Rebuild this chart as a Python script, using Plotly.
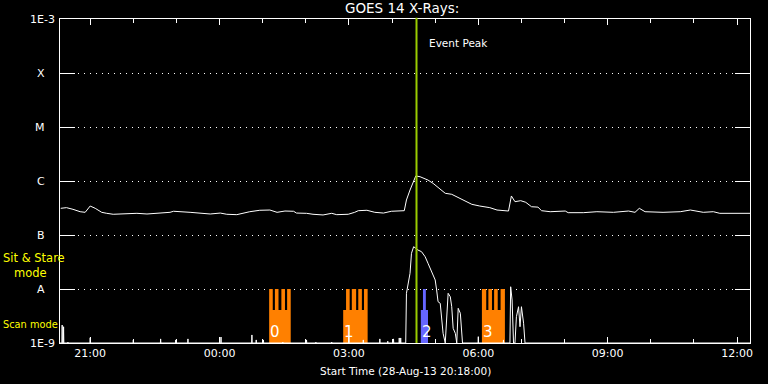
import plotly.graph_objects as go
from datetime import datetime, timedelta
import math

# ---------------- data ----------------
START = "20:18"
END = "12:18"
PEAK_TIME = "04:34"

# GOES 14 long channel (1-8 A), W/m^2
long_times = ["20:19", "20:27", "20:36", "20:46", "20:53", "21:00", "21:07", "21:16", "21:23", "21:32",
              "22:05", "22:19", "22:51", "22:56", "23:19", "23:47", "00:01", "00:10", "00:24", "00:42",
              "00:56", "01:10", "01:20", "01:31", "01:43", "01:47", "02:01", "02:10", "02:24", "02:36",
              "02:43", "02:59", "03:08", "03:13", "03:25", "03:36", "03:48", "03:59", "04:17", "04:20",
              "04:25", "04:30", "04:33", "04:39", "04:50", "04:57", "05:07", "05:14", "05:23", "05:32",
              "05:39", "05:51", "06:02", "06:16", "06:26", "06:42", "06:46", "06:51", "06:59", "07:06",
              "07:14", "07:23", "07:28", "07:40", "08:01", "08:05", "08:26", "08:45", "09:08", "09:29",
              "09:38", "09:44", "09:52", "10:17", "10:41", "10:55", "11:13", "11:27", "11:36", "12:18"]
long_flux = [3.12e-7, 3.21e-7, 2.99e-7, 2.70e-7, 2.63e-7, 3.44e-7, 3.12e-7, 2.63e-7, 2.52e-7, 2.42e-7,
             2.52e-7, 2.45e-7, 2.63e-7, 2.75e-7, 2.63e-7, 2.45e-7, 2.55e-7, 2.42e-7, 2.38e-7, 2.70e-7,
             2.87e-7, 2.90e-7, 2.63e-7, 2.78e-7, 2.75e-7, 2.55e-7, 2.52e-7, 2.42e-7, 2.35e-7, 2.52e-7,
             2.38e-7, 2.42e-7, 2.63e-7, 2.82e-7, 2.87e-7, 2.63e-7, 2.55e-7, 2.75e-7, 2.82e-7, 4.45e-7,
             6.81e-7, 9.70e-7, 1.24e-6, 1.20e-6, 1.04e-6, 9.06e-7, 7.02e-7, 5.92e-7, 5.67e-7, 4.99e-7,
             4.45e-7, 3.70e-7, 3.44e-7, 3.21e-7, 2.90e-7, 2.78e-7, 5.28e-7, 4.14e-7, 4.32e-7, 4.03e-7,
             3.34e-7, 3.28e-7, 2.82e-7, 2.70e-7, 2.78e-7, 2.59e-7, 2.59e-7, 2.70e-7, 2.63e-7, 2.78e-7,
             2.63e-7, 3.12e-7, 2.70e-7, 2.63e-7, 2.70e-7, 2.90e-7, 2.63e-7, 2.70e-7, 2.52e-7, 2.52e-7]

# GOES 14 short channel (0.5-4 A): flare segments
short_floor = 1e-9
flare_times = ["04:18", "04:19", "04:20", "04:23", "04:25", "04:27", "04:30", "04:33", "04:36", "04:41",
               "04:46", "04:50", "04:55", "05:00", "05:02", "05:04", "05:07", "05:09", "05:11", "05:14",
               "05:16", "05:18", "05:21", "05:23", "05:25", "05:28", "05:30", "05:32", "05:35", "05:37",
               "05:38"]
flare_flux = [1e-9, 1e-9, 8.32e-9, 1.36e-8, 1.95e-8, 4.58e-8, 6.07e-8, 5.67e-8, 5.27e-8, 4.91e-8,
              3.96e-8, 2.99e-8, 2.09e-8, 1.47e-8, 9.58e-9, 5.82e-9, 5.43e-9, 2.32e-9, 1.51e-9, 1e-9,
              2.32e-9, 8.32e-9, 7.20e-9, 4.70e-9, 1.87e-9, 1.51e-9, 1e-9, 4.39e-9, 3.55e-9, 1e-9,
              1e-9]
late_times = ["06:44", "06:45", "06:47", "06:49", "06:51", "06:53", "06:56", "06:58", "07:00", "07:03",
              "07:05", "07:09"]
late_flux = [1e-9, 1.10e-8, 6.26e-9, 1e-9, 1e-9, 3.07e-9, 4.70e-9, 2.00e-9, 4.70e-9, 2.32e-9,
             1e-9, 1e-9]
# isolated short-channel spikes
spike_times = ["20:21", "20:23", "20:29", "21:00", "22:00", "22:38", "22:59", "23:16", "00:02", "00:45",
               "00:51", "01:01", "01:28", "02:01", "02:14", "02:36", "03:00", "03:20", "03:43", "03:54",
               "04:02", "04:10", "04:12", "06:00", "06:35"]
spike_flux = [2.15e-9, 2.0e-9, 1.04e-9, 1.25e-9, 1.14e-9, 1.19e-9, 1.14e-9, 1.19e-9, 1.29e-9, 1.41e-9,
              1.14e-9, 1.14e-9, 1.04e-9, 1.14e-9, 1.04e-9, 1.04e-9, 1.31e-9, 1.14e-9, 1.19e-9, 1.08e-9,
              1.19e-9, 1.24e-9, 1.24e-9, 1.31e-9, 1.14e-9]

# IRIS observations: label, colour key, raster (tooth) intervals, base interval
obs_labels = ["0", "1", "2", "3"]
obs_kind = ["scan", "scan", "stare", "scan"]
obs_teeth = [[("01:09", "01:14"), ("01:17", "01:22"), ("01:26", "01:31"), ("01:34", "01:39")],
             [("02:56", "03:01"), ("03:04", "03:10"), ("03:13", "03:18"), ("03:21", "03:26")],
             [("04:43", "04:47")],
             [("06:05", "06:11"), ("06:14", "06:19"), ("06:22", "06:27"), ("06:31", "06:37")]]
obs_base = [("01:09", "01:39"), ("02:52", "03:26"), ("04:40", "04:50"), ("06:05", "06:37")]

class_levels = [1e-3, 1e-4, 1e-5, 1e-6, 1e-7, 1e-8, 1e-9]
class_labels = ["1E-3", "X", "M", "C", "B", "A", "1E-9"]


# ---------------- helpers ----------------
def ts(hhmm):
    h = int(hhmm[:2])
    day = "2013-08-28" if h >= 13 else "2013-08-29"
    return datetime.strptime(day + " " + hhmm, "%Y-%m-%d %H:%M")


FONT = "DejaVu Sans"
WHITE = "#ffffff"
ORANGE = "#ff8000"
BLUE = "#6666ff"
GREEN = "#99cc00"
YELLOW = "#ffff00"

TOOTH_TOP = 1e-8
BASE_TOP = 4.1e-9
BOTTOM = 1e-9

fig = go.Figure()

# observation bars
for lab, kind, teeth, base in zip(obs_labels, obs_kind, obs_teeth, obs_base):
    xs, ys = [], []
    rects = [(ts(a), ts(b), TOOTH_TOP) for a, b in teeth] + [(ts(base[0]), ts(base[1]), BASE_TOP)]
    for x0, x1, top in rects:
        xs += [x0, x0, x1, x1, x0, None]
        ys += [BOTTOM, top, top, BOTTOM, BOTTOM, None]
    fig.add_trace(go.Scatter(x=xs, y=ys, mode="lines", fill="toself",
                             fillcolor=ORANGE if kind == "scan" else BLUE,
                             line=dict(width=0), hoverinfo="skip", showlegend=False))

# short channel
pts = [(ts(START), short_floor), (ts(END), short_floor)]
pts += [(ts(t), f) for t, f in zip(flare_times, flare_flux)]
pts += [(ts(t), f) for t, f in zip(late_times, late_flux)]
for t, f in zip(spike_times, spike_flux):
    tt = ts(t)
    pts += [(tt - timedelta(seconds=20), short_floor), (tt, f), (tt + timedelta(seconds=20), short_floor)]
pts.sort(key=lambda p: p[0])
fig.add_trace(go.Scatter(x=[p[0] for p in pts], y=[p[1] for p in pts], mode="lines",
                         line=dict(color=WHITE, width=1), hoverinfo="skip", showlegend=False))

# long channel
fig.add_trace(go.Scatter(x=[ts(t) for t in long_times], y=long_flux, mode="lines",
                         line=dict(color=WHITE, width=1), hoverinfo="skip", showlegend=False))

# event peak line
fig.add_shape(type="line", xref="x", yref="paper", x0=ts(PEAK_TIME), x1=ts(PEAK_TIME),
              y0=0, y1=1.004, line=dict(color=GREEN, width=2), layer="above")

ann = []
# y class labels
for lvl, lab in zip(class_levels, class_labels):
    numeric = lab.startswith("1E")
    ann.append(dict(xref="paper", yref="y", x=(-3 if numeric else -13) / 690.0, y=math.log10(lvl),
                    text=lab, showarrow=False, xanchor="right", yanchor="middle",
                    font=dict(family=FONT, size=11, color=WHITE)))
# observation numbers
for lab, base in zip(obs_labels, obs_base):
    ann.append(dict(xref="x", yref="y", x=ts(base[0]), y=math.log10(1.6e-9), text=lab,
                    showarrow=False, xanchor="left", yanchor="middle", xshift=-1,
                    font=dict(family=FONT, size=15, color=WHITE)))
# mode labels
ann += [
    dict(xref="paper", yref="paper", x=-59 / 690.0, y=78 / 324.0,
         text="Sit & Stare<br>\u00a0\u00a0\u00a0mode", showarrow=False, align="left",
         xanchor="left", yanchor="middle", font=dict(family=FONT, size=11.5, color=YELLOW)),
    dict(xref="paper", yref="paper", x=-59 / 690.0, y=19 / 324.0, text="Scan mode", showarrow=False,
         xanchor="left", yanchor="middle", font=dict(family=FONT, size=9.8, color=YELLOW)),
    dict(xref="paper", yref="paper", x=0.4957, y=335 / 324.0, text="GOES 14 X-Rays:", showarrow=False,
         xanchor="center", yanchor="middle", font=dict(family=FONT, size=13.5, color=WHITE)),
    dict(xref="paper", yref="paper", x=367 / 690.0, y=300 / 324.0, text="Event Peak", showarrow=False,
         xanchor="left", yanchor="middle", font=dict(family=FONT, size=10.5, color=WHITE)),
    dict(xref="paper", yref="paper", x=0.5, y=-28 / 324.0, text="Start Time (28-Aug-13 20:18:00)",
         showarrow=False, xanchor="center", yanchor="middle", font=dict(family=FONT, size=10.5, color=WHITE)),
]

fig.update_layout(
    width=768, height=384,
    margin=dict(l=60, r=18, t=19, b=41),
    paper_bgcolor="black", plot_bgcolor="black",
    showlegend=False,
    annotations=ann,
    xaxis=dict(
        type="date", range=[ts(START), ts(END)],
        showline=True, linecolor=WHITE, linewidth=1, mirror="ticks",
        ticks="inside", ticklen=6, tickcolor=WHITE, tickwidth=1,
        tick0=ts("21:00"), dtick=3 * 3600 * 1000, tickformat="%H:%M",
        tickfont=dict(family=FONT, size=11, color=WHITE),
        showgrid=False, zeroline=False,
        minor=dict(dtick=3600 * 1000, tick0=ts("21:00"), ticks="inside", ticklen=4,
                   tickcolor=WHITE, showgrid=False),
    ),
    yaxis=dict(
        type="log", range=[-9, -3],
        showline=True, linecolor=WHITE, linewidth=1, mirror="ticks",
        ticks="inside", ticklen=15, tickcolor=WHITE, tickwidth=1,
        tickvals=[1e-8, 1e-7, 1e-6, 1e-5, 1e-4], showticklabels=False,
        showgrid=True, gridcolor=WHITE, gridwidth=1, griddash="1px,5px",
        zeroline=False,
    ),
)

fig.write_html("out.html", config={"displayModeBar": False},
               post_script="document.body.style.margin='0';document.body.style.background='black';")
